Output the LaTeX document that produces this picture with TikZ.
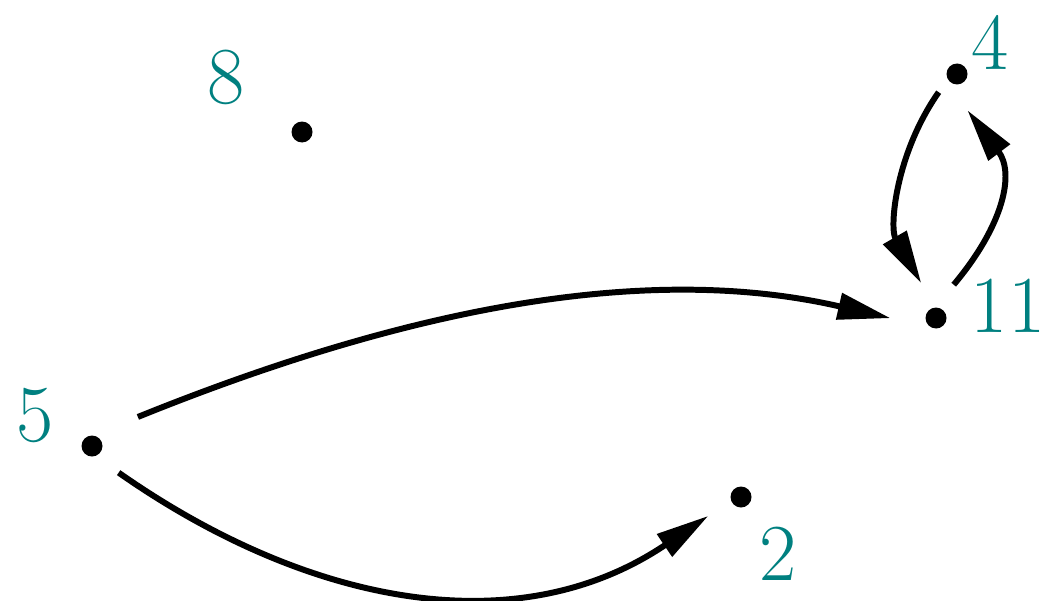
\documentclass[tikz,border=0pt]{standalone}
\usepackage{xcolor}
\usepackage{tikz}
\usetikzlibrary{arrows.meta}
\definecolor{lblTeal}{RGB}{0,128,128}

\begin{document}
\begin{tikzpicture}[
    vert/.style={circle, inner sep=0pt, minimum size=0.74cm,
                 path picture={\fill (path picture bounding box.center) circle (0.105cm);}},
    lbl/.style={text=lblTeal, font=\fontsize{23}{27}\selectfont, inner sep=0pt},
    edge/.style={line width=1.7pt, -{Triangle[length=5.3mm, width=2.6mm]}}
  ]
  \useasboundingbox (0,0) rectangle (10.43,6);
  % vertices
  \node[vert] (v8)  at (3.02, 4.68) {};
  \node[vert] (v4)  at (9.57, 5.26) {};
  \node[vert] (v11) at (9.36, 2.82) {};
  \node[vert] (v5)  at (0.92, 1.54) {};
  \node[vert] (v2)  at (7.41, 1.03) {};
  % labels
  \node[lbl] (l8)  at (2.26, 5.23) {8};
  \node[lbl] (l4)  at (9.90, 5.58) {4};
  \node[lbl] (l11) at (10.08, 2.94) {11};
  \node[lbl] (l5)  at (0.35, 1.85) {5};
  \node[lbl] (l2)  at (7.78, 0.46) {2};
  % arcs
  \draw[edge, shorten <=0.17cm, shorten >=0.08cm] (v5.37) to[out=22, in=167, looseness=0.9] (v11.183);
  \draw[edge] (v5.-45) to[out=-35, in=214] (v2.210);
  \draw[edge, shorten <=-0.12cm, looseness=0.9] (v4.228) to[out=235, in=120] (v11.113);
  \draw[edge, looseness=1.15] (v11.62) to[out=50, in=-53] (v4.-74);
\end{tikzpicture}
\end{document}
